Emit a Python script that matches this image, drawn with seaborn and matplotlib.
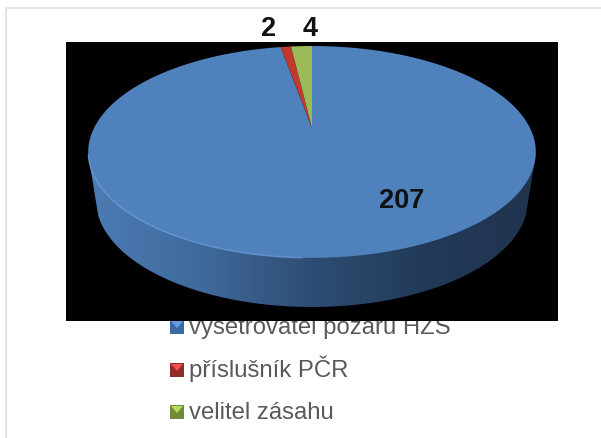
import numpy as np
import matplotlib
matplotlib.use("Agg")
import matplotlib.pyplot as plt
from matplotlib.colors import LinearSegmentedColormap
from matplotlib.patches import Polygon, Rectangle
import seaborn as sns

categories = ["vyšetřovatel požárů HZS", "příslušník PČR", "velitel zásahu"]
values = [207, 2, 4]
label_pos = [(402, 201), (269, 29), (310, 29)]
colors = ["#4f81bd", "#c0392f", "#9bbb59"]
dark_colors = ["#3a6aa3", "#8f2c2a", "#6f8a38"]
light_colors = ["#5f9fe0", "#f0504c", "#b6dc5c"]

sns.set_theme(style="white")
plt.rcParams['font.family'] = ['Liberation Sans', 'DejaVu Sans']
palette = sns.color_palette(colors)

fig = plt.figure(figsize=(6.01, 4.38), dpi=100)
ax = fig.add_axes([0, 0, 1, 1])

# pie works out the angles, they get squashed into perspective afterwards
wedges, _ = ax.pie(values, startangle=90, counterclock=False)

cx, cy = 312, 128
k = 0.226


def project(t):
    u = np.cos(np.radians(t))
    v = np.sin(np.radians(t))
    return cx + 218 * u / (1 + k * v), cy - 100.5 * v / (1 + k * v)


for w, col in zip(wedges, palette):
    t = np.linspace(w.theta1, w.theta2, 300)
    x, y = project(t)
    ax.fill(np.r_[cx, x], np.r_[cy, y], color=col, lw=0, zorder=5)
    w.remove()

ax.set_aspect('auto')
ax.set_axis_on()
ax.set_xlim(0, 601)
ax.set_ylim(438, 0)
ax.set_xticks([])
ax.set_yticks([])
for s in ax.spines.values():
    s.set_visible(False)
ax.patch.set_facecolor("white")
ax.patch.set_visible(True)

# page frame
ax.plot([6, 6, 601], [438, 8, 8], color="#e4e4e4", lw=1.6, zorder=1)

# legend sits under the black box, its top gets cut off like in the picture
rows = [334, 377, 419]
for name, col, dark, light, base in zip(categories, palette, dark_colors, light_colors, rows):
    ax.text(189, base, name, fontsize=17.2, color="#595959", va="baseline", ha="left", zorder=2)
    top = base - 14
    ax.add_patch(Rectangle((170, top), 14, 14, color=dark, lw=0, zorder=2))
    ax.add_patch(Polygon([(171, top + 1), (183, top + 1), (177, top + 8)], color=light, lw=0, zorder=2))
    ax.add_patch(Rectangle((170, top + 11), 14, 3, color=dark, lw=0, alpha=0.7, zorder=2))

ax.add_patch(Rectangle((66, 42), 492, 279, color="black", lw=0, zorder=3))

# side of the disc
t = np.linspace(-8, -172, 200)
side_x = np.r_[536, 312 + 216 * np.cos(np.radians(t)), 88]
side_y = np.r_[153, 200 - 107 * np.sin(np.radians(t)), 153]
side_clip = Polygon(np.c_[side_x, side_y], transform=ax.transData)
side_cmap = LinearSegmentedColormap.from_list("side", ["#4c7cb4", "#3f6a9c", "#2e4d74", "#223a58", "#20344e"])
im = ax.imshow(np.linspace(0, 1, 256)[None, :], extent=(88, 536, 310, 150), cmap=side_cmap,
               aspect='auto', zorder=4)
im.set_clip_path(side_clip)
ax.set_xlim(0, 601)
ax.set_ylim(438, 0)

# light rim on the lower left edge
t = np.linspace(195, 268, 120)
rx, ry = project(t)
ax.plot(rx, ry, color="#6ea3dd", lw=1.0, alpha=0.7, zorder=6)

for val, (lx, ly) in zip(values, label_pos):
    ax.text(lx, ly, str(val), fontsize=19.5, fontweight="bold", color="#111111",
            ha="center", va="center", zorder=7)

fig.savefig("out.png", dpi=100)
